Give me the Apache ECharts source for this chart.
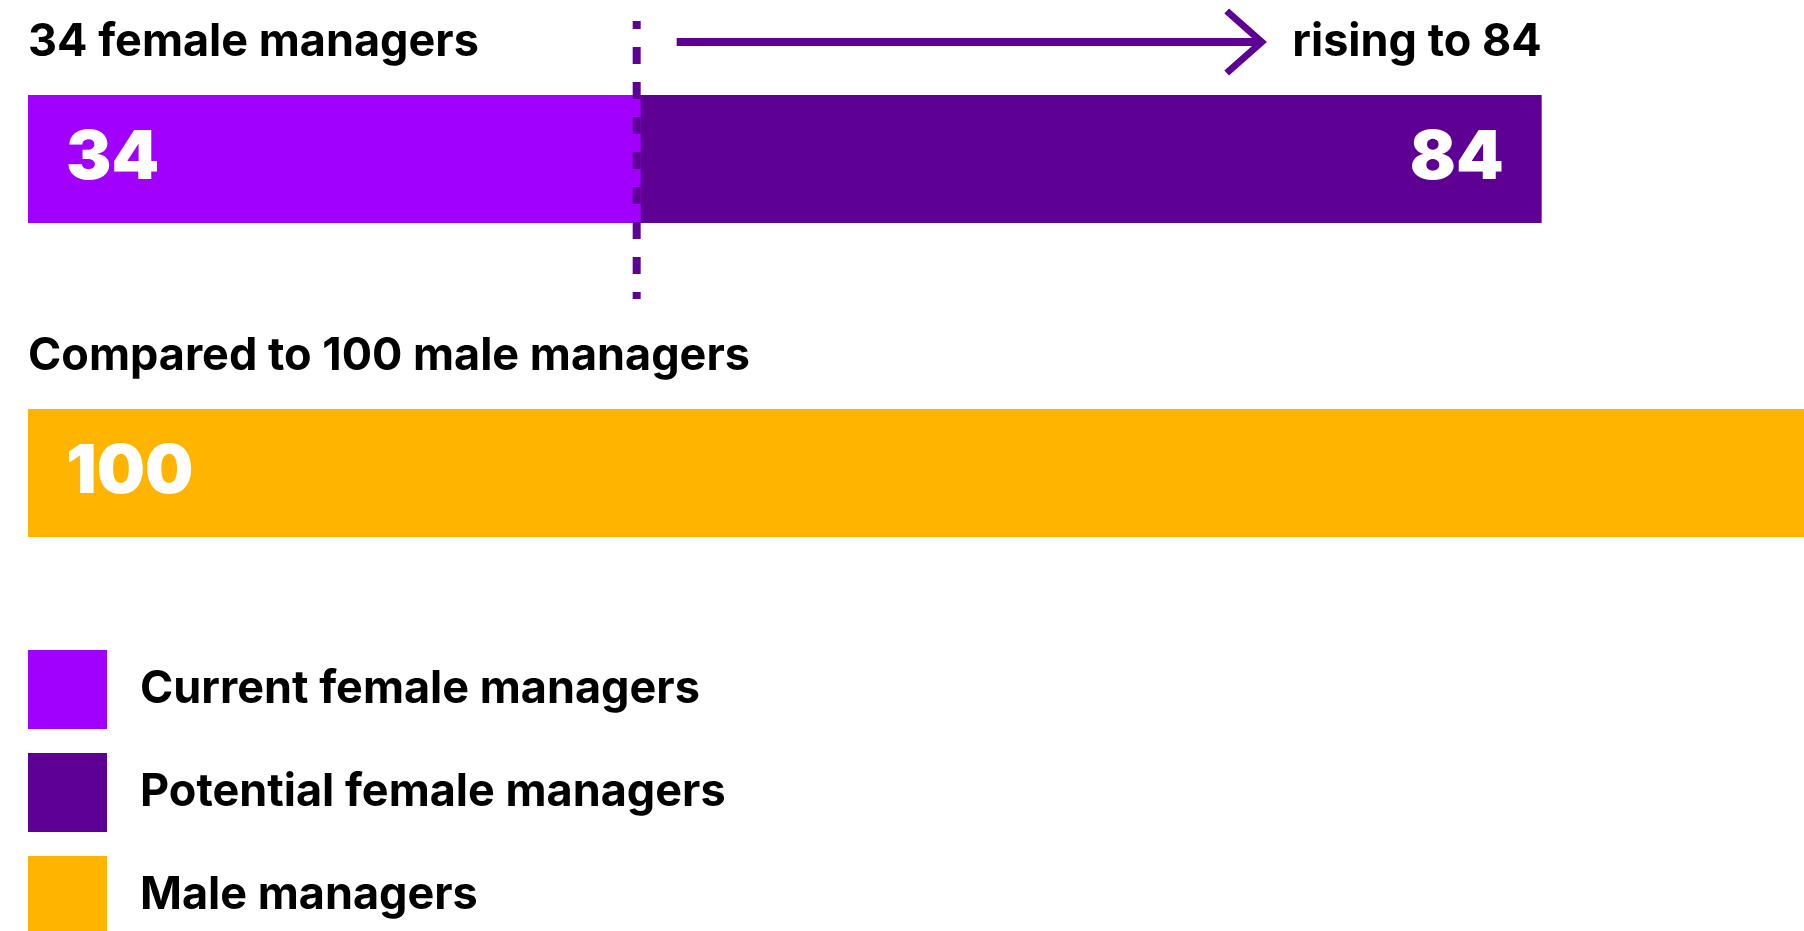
<!DOCTYPE html>
<html><head><meta charset="utf-8">
<script src="https://cdn.jsdelivr.net/npm/echarts@6/dist/echarts.min.js"></script>
<style>html,body{margin:0;padding:0;background:#fff;overflow:hidden}#c{width:1804px;height:931px}</style>
</head><body><div id="c"></div>
<script>
// ---- data ----
const categories = ['Female managers', 'Male managers'];
const currentFemale = [34, null];
const potentialFemale = [84, null];
const maleManagers = [null, 100];
const seriesNames = ['Current female managers', 'Potential female managers', 'Male managers'];
const headings = ['34 female managers', 'Compared to 100 male managers'];
const risingText = 'rising to 84';
const currentValue = 34;
const potentialValue = 84;
const axisMin = 0, axisMax = 100;

// ---- style ----
const FONT = 'Inter, Roboto, sans-serif';
const C_CUR = '#A100FF', C_POT = '#5F0095', C_MALE = '#FFB500';
const labelStyle = {show: true, color: '#fff', fontSize: 68, fontWeight: 900, fontFamily: FONT, distance: 38};

const chart = echarts.init(document.getElementById('c'), null, {renderer: 'canvas'});
const option = {
  animation: false,
  backgroundColor: '#fff',
  grid: {left: 28, top: 2, width: 1802, height: 628, outerBoundsMode: 'none', containLabel: false},
  xAxis: {type: 'value', min: axisMin, max: axisMax, show: false},
  yAxis: {type: 'category', data: categories, inverse: true, show: false},
  legend: {
    data: [seriesNames[0], seriesNames[1], seriesNames[2]],
    orient: 'vertical', left: 28, top: 650, height: 400, padding: 0,
    icon: 'rect', itemWidth: 79, itemHeight: 79, itemGap: 24,
    selectedMode: false,
    textStyle: {fontSize: 45, fontWeight: 'bold', fontFamily: FONT, color: '#000', padding: [0, 0, 0, 28]}
  },
  series: [
    {name: seriesNames[1], type: 'bar', data: potentialFemale, barWidth: 128, barGap: '-100%',
     itemStyle: {color: C_POT}, label: Object.assign({}, labelStyle, {position: 'insideRight'})},
    {name: seriesNames[0], type: 'bar', data: currentFemale, barWidth: 128, barGap: '-100%',
     itemStyle: {color: C_CUR}, label: Object.assign({}, labelStyle, {position: 'insideLeft'})},
    {name: seriesNames[2], type: 'bar', data: maleManagers, barWidth: 128, barGap: '-100%',
     itemStyle: {color: C_MALE}, label: Object.assign({}, labelStyle, {position: 'insideLeft'})}
  ]
};
chart.setOption(option);

// annotations positioned from the library's scale
const x0 = chart.convertToPixel({xAxisIndex: 0}, axisMin);
const x34 = chart.convertToPixel({xAxisIndex: 0}, currentValue);
const x84 = chart.convertToPixel({xAxisIndex: 0}, potentialValue);
const arrowY = 42;
const arrowStart = x34 + 36;
const arrowEnd = x84 - 280;
const textStyleBase = {fontSize: 45, fontWeight: 'bold', fontFamily: FONT, fill: '#000', verticalAlign: 'middle'};
chart.setOption({
  graphic: [
    {type: 'text', left: x0, top: 20, style: Object.assign({}, textStyleBase, {text: headings[0], verticalAlign: 'top'})},
    {type: 'text', left: x0, top: 334, style: Object.assign({}, textStyleBase, {text: headings[1], verticalAlign: 'top'})},
    {type: 'text', x: x84, y: arrowY, style: Object.assign({}, textStyleBase, {text: risingText, align: 'right'})},
    {type: 'line', shape: {x1: arrowStart, y1: arrowY, x2: arrowEnd - 3, y2: arrowY},
     style: {stroke: C_POT, lineWidth: 8}},
    {type: 'polyline', shape: {points: [[arrowEnd - 35, arrowY - 31], [arrowEnd, arrowY], [arrowEnd - 35, arrowY + 31]]},
     style: {stroke: C_POT, lineWidth: 7, fill: null}},
    {type: 'line', shape: {x1: x34 - 4, y1: 21, x2: x34 - 4, y2: 299},
     style: {stroke: C_POT, lineWidth: 8, lineDash: [17, 18], lineDashOffset: 9}, z: 100}
  ]
});
</script></body></html>
